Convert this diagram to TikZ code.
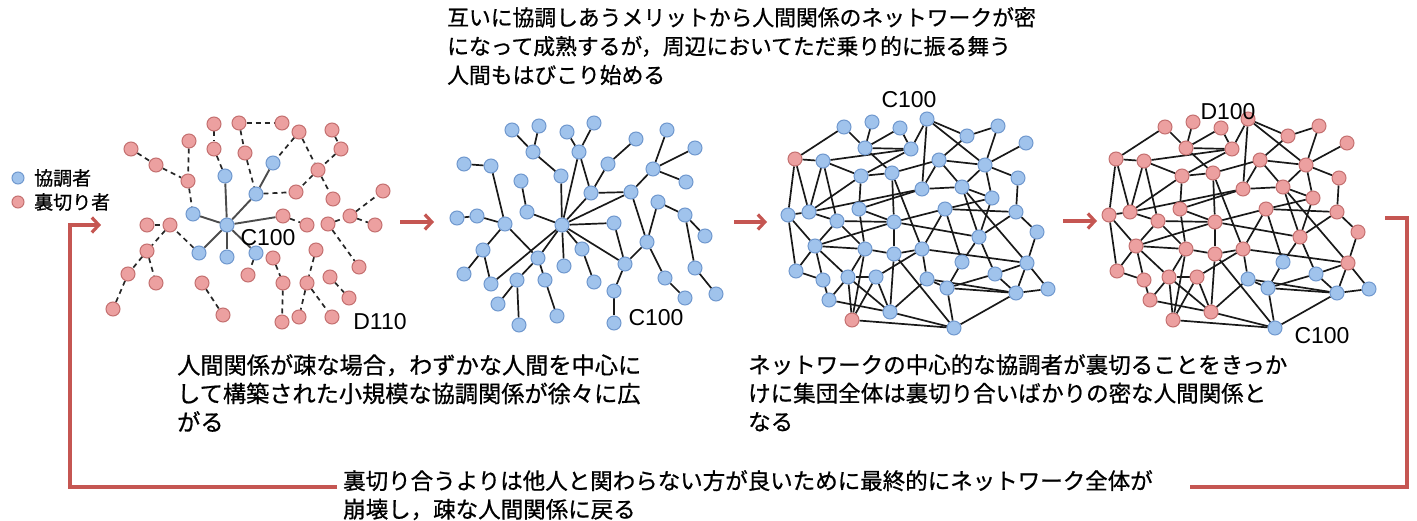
\documentclass[tikz,border=0pt]{standalone}
\usepackage{fontspec}
\setmainfont{Liberation Sans}
\newfontfamily\jp[FakeBold=0.8]{Noto Sans CJK JP}
\usetikzlibrary{arrows.meta}
\usetikzlibrary{backgrounds}

\definecolor{coopfill}{RGB}{160,195,236}
\definecolor{coopline}{RGB}{112,152,206}
\definecolor{defefill}{RGB}{236,160,160}
\definecolor{defeline}{RGB}{196,112,112}
\definecolor{loopred}{RGB}{197,86,82}

\tikzset{
  coop/.style={circle, draw=coopline, fill=coopfill, line width=1pt, minimum size=14pt, inner sep=0pt},
  defe/.style={circle, draw=defeline, fill=defefill, line width=1pt, minimum size=14pt, inner sep=0pt},
  tie/.style={line width=1.7pt, black!90},
  hub/.style={line width=1.9pt, black!70},
  weak/.style={line width=1.7pt, black!85, dash pattern=on 5pt off 4pt},
  flow/.style={loopred, line width=3.2pt, -{Straight Barb[length=7pt,width=15pt]}},
  loopline/.style={loopred, line width=3.2pt},
  lab/.style={font=\fontsize{23}{25}\selectfont, inner sep=0pt},
  note/.style={font=\jp\fontsize{22.5}{28.5}\selectfont, align=left, anchor=north west, inner sep=0pt},
  keynote/.style={font=\jp\fontsize{19}{21}\selectfont, anchor=west, inner sep=0pt}
}

% dense network, #1 = name prefix, #2 = x shift
\newcommand\densenet[2]{%
  \begin{scope}[shift={(#2,0)}]
    \foreach \n/\x/\y in {1/844/127, 2/872/122, 3/900/128, 4/927/119, 5/967/136, 6/998/126,
      7/1026/143, 8/795/159, 9/823/161, 10/865/148, 11/911/149, 12/939/160, 13/985/165,
      14/861/176, 15/892/173, 16/922/189, 17/962/187, 18/1018/178, 19/992/198, 20/788/215,
      21/809/212, 22/837/221, 23/859/209, 24/894/222, 25/945/209, 26/1016/212, 27/1037/232,
      28/979/237, 29/815/246, 30/865/249, 31/894/254, 32/922/249, 33/962/262, 34/1027/263,
      35/796/271, 36/823/280, 37/848/277, 38/876/277, 39/927/279, 40/947/288, 41/995/274,
      42/1016/293, 43/1048/289, 44/829/300, 45/890/312, 46/852/320, 47/954/328}
      \node[netdot, k\n/.try] (#1\n) at (\x,\y) {};
    \begin{scope}[on background layer]
      \foreach \a/\b in {8/1, 8/9, 8/20, 8/21, 1/10, 2/10, 3/10, 10/11, 10/15,
        9/11, 9/14, 9/21, 9/22, 11/14, 11/4, 3/11, 14/15, 14/23, 14/21,
        15/24, 15/12, 15/32, 4/16, 4/13, 4/5, 5/6, 5/12, 6/13, 7/13,
        12/13, 12/17, 12/16, 13/17, 13/19, 13/18, 16/17, 16/21, 16/23,
        17/19, 17/28, 17/34, 18/26, 19/28, 19/25, 25/26, 25/32, 25/33, 25/24,
        26/27, 26/28, 27/34, 28/41, 28/33, 28/24, 20/21, 20/35, 20/29,
        21/22, 22/29, 22/30, 22/24, 23/24, 23/30, 24/31, 24/29,
        29/30, 29/35, 29/36, 29/37, 30/37, 30/46, 30/31, 31/45, 31/32, 31/47,
        32/34, 32/39, 32/38, 33/40, 34/41, 34/43, 34/42, 39/40, 39/42, 39/45,
        40/41, 40/47, 40/42, 41/42, 42/43, 42/47, 37/44, 37/46, 37/45,
        38/46, 38/45, 38/37, 44/45, 44/36, 46/47, 45/47, 35/36}
        \draw[tie] (#1\a) -- (#1\b);
    \end{scope}
  \end{scope}}

\begin{document}
\begin{tikzpicture}[x=1pt, y=-1pt]
  \useasboundingbox (0,0) rectangle (1417,521);

  % legend
  \node[coop, minimum size=12pt] (keyc) at (18,178) {};
  \node[defe, minimum size=12pt] (keyd) at (18,202) {};
  \node[keynote] (keyctxt) at (34,178) {協調者};
  \node[keynote] (keydtxt) at (34,202) {裏切り者};

  % stage 1: sparse
  \node[coop] (sc) at (227,225) {};
  \foreach \n/\x/\y in {1/193/214, 2/225/176, 3/256/194, 4/273/163, 5/199/253, 6/227/257, 7/256/253}
    \node[coop] (sb\n) at (\x,\y) {};
  \foreach \n/\x/\y in {1/131/149, 2/156/165, 3/188/181, 4/189/141, 5/214/124, 6/214/149, 7/239/123,
    8/282/123, 9/245/153, 10/299/132, 11/332/130, 12/341/149, 13/318/170, 14/296/192, 15/333/199,
    16/383/191, 17/350/216, 18/375/225, 19/328/224, 20/307/225, 21/283/216, 22/359/267, 23/316/250,
    24/307/283, 25/330/277, 26/349/298, 27/332/317, 28/299/317, 29/282/322, 30/283/283, 31/273/258,
    32/248/275, 33/202/283, 34/223/315, 35/147/225, 36/170/225, 37/147/251, 38/128/274, 39/156/283,
    40/113/309}
    \node[defe] (sr\n) at (\x,\y) {};
  \begin{scope}[on background layer]
    \foreach \a/\b in {sc/sb1, sc/sb2, sc/sb3, sc/sb5, sc/sb6, sc/sb7, sc/sr21, sb3/sb4}
      \draw[hub] (\a) -- (\b);
    \foreach \a/\b in {sr1/sr2, sr2/sr3, sr4/sr3, sr3/sb1, sr5/sr6, sr6/sb2, sr7/sr8, sr7/sr9,
      sr9/sb3, sr10/sb4, sr10/sr13, sr11/sr12, sr12/sr13, sr13/sr15, sr13/sr14, sb3/sr14,
      sr21/sr20, sr19/sr17, sr17/sr16, sr17/sr18, sr19/sr22, sr23/sr24, sr24/sr28, sr24/sr27,
      sr25/sr26, sr31/sr30, sr30/sr29, sb7/sr32, sr33/sr34, sb5/sr36, sr35/sr36, sr36/sr37,
      sr37/sr38, sr38/sr40, sr37/sr39}
      \draw[weak] (\a) -- (\b);
  \end{scope}
  \node[lab] (sparsec) at (268,238) {C100};
  \node[lab] (sparsed) at (380,322) {D110};

  % stage 2: growing tree
  \foreach \n/\x/\y in {0/562/225, 1/512/130, 2/539/126, 3/533/152, 4/561/176, 5/567/132, 6/594/123,
    7/579/152, 8/591/193, 9/608/164, 10/636/139, 11/631/192, 12/653/169, 13/667/130, 14/695/148,
    15/686/182, 16/464/164, 17/491/166, 18/521/181, 19/527/212, 20/457/218, 21/477/216, 22/505/224,
    23/483/250, 24/464/274, 25/491/284, 26/538/258, 27/517/280, 28/498/304, 29/519/325, 30/545/280,
    31/557/316, 32/564/266, 33/582/249, 34/594/282, 35/614/223, 36/625/264, 37/614/291, 38/614/323,
    39/647/242, 40/658/202, 41/685/215, 42/705/236, 43/695/268, 44/716/294, 45/665/278, 46/685/298}
    \node[coop] (g\n) at (\x,\y) {};
  \begin{scope}[on background layer]
    \foreach \a/\b in {1/3, 2/3, 3/4, 4/0, 5/7, 6/7, 7/0, 7/8, 9/10, 9/8, 8/11, 8/0, 11/0, 11/12,
      12/13, 12/14, 12/15, 11/39, 0/35, 0/36, 35/36, 36/39, 39/40, 40/41, 41/42, 41/43, 43/44,
      39/45, 45/46, 36/37, 37/38, 0/33, 33/34, 0/32, 0/26, 0/25, 26/30, 30/31, 27/28, 27/29,
      27/26, 22/26, 18/19, 19/0, 16/17, 17/22, 20/21, 21/22, 22/23, 23/24, 23/25}
      \draw[tie] (g\a) -- (g\b);
  \end{scope}
  \node[lab] (treec) at (656,318) {C100};

  % stage 3: mature, stage 4: collapse
  \begin{scope}[netdot/.style=coop, k8/.style=defe, k46/.style=defe]
    \densenet{ripe}{0}
  \end{scope}
  \node[lab] (ripec) at (909,100) {C100};
  \begin{scope}[netdot/.style=defe, k33/.style=coop, k39/.style=coop, k40/.style=coop,
      k41/.style=coop, k42/.style=coop, k43/.style=coop, k47/.style=coop]
    \densenet{fall}{321}
  \end{scope}
  \node[lab] (falld) at (1228,112) {D100};
  \node[lab] (fallc) at (1322,336) {C100};

  % arrows between stages
  \coordinate (s1out) at (400,222); \coordinate (s2in) at (434,222);
  \coordinate (s2out) at (734,222); \coordinate (s3in) at (767,222);
  \coordinate (s3out) at (1063,221); \coordinate (s4in) at (1097,221);
  \draw[flow] (s1out) -- (s2in);
  \draw[flow] (s2out) -- (s3in);
  \draw[flow] (s3out) -- (s4in);

  % texts
  \node[note, font=\jp\fontsize{21.8}{28.8}\selectfont] (topnote) at (447,7) {互いに協調しあうメリットから人間関係のネットワークが密\\になって成熟するが，周辺においてただ乗り的に振る舞う\\人間もはびこり始める};
  \node[note, font=\jp\fontsize{23.2}{28.5}\selectfont] (leftnote) at (177,354) {人間関係が疎な場合，わずかな人間を中心に\\して構築された小規模な協調関係が徐々に広\\がる};
  \node[note] (rightnote) at (748,354) {ネットワークの中心的な協調者が裏切ることをきっか\\けに集団全体は裏切り合いばかりの密な人間関係と\\なる};
  \node[note] (backnote) at (343,470) {裏切り合うよりは他人と関わらない方が良いために最終的にネットワーク全体が\\崩壊し，疎な人間関係に戻る};

  % feedback loop
  \coordinate (loopa) at (1385,218); \coordinate (loopb) at (1407,218);
  \coordinate (loopc) at (1407,487); \coordinate (loopd) at (1190,487);
  \coordinate (loope) at (337,487); \coordinate (loopf) at (70,487);
  \coordinate (loopg) at (70,225); \coordinate (looph) at (101,225);
  \draw[black!20, line width=3pt, shift={(1,4)}] (loopb) -- (loopc) -- (loopd) (loope) -- (loopf) -- (loopg);
  \draw[loopline] (loopa) -- (loopb) -- (loopc) -- (loopd);
  \draw[flow] (loope) -- (loopf) -- (loopg) -- (looph);
\end{tikzpicture}
\end{document}
